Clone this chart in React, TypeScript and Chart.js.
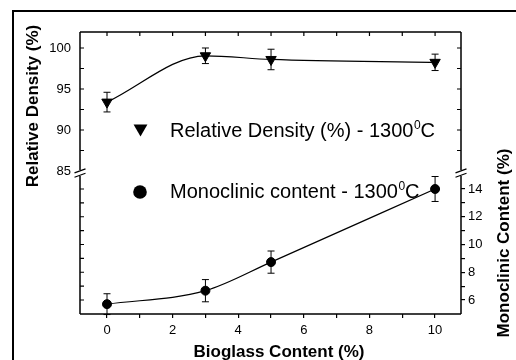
import React, { useEffect, useRef } from 'react';
import { Chart, registerables } from 'chart.js';

Chart.register(...registerables);

// ---- data ----
const bioglass = [0, 3, 5, 10];
const relDensity = [93.4, 99.05, 98.6, 98.25];
const relDensityErr = [1.2, 0.95, 1.25, 1.0];
const monoclinic = [5.7, 6.67, 8.73, 14.0];
const monoclinicErr = [0.75, 0.8, 0.8, 0.9];

const xTicks = [0, 1, 2, 3, 4, 5, 6, 7, 8, 9, 10];
const densityLabelTicks = [85, 90, 95, 100];
const densityMinorTicks = [87.5, 90, 92.5, 95, 97.5, 100];
const monoTicks = [6, 7, 8, 9, 10, 11, 12, 13, 14];

const xTitle = 'Bioglass Content (%)';
const yTitle = 'Relative Density (%)';
const y1Title = 'Monoclinic Content (%)';
const legendLabels = ['Relative Density (%) - 1300', 'Monoclinic content - 1300'];
const legendSup = '0';
const legendUnit = 'C';

const FONT = '"Liberation Sans", Arial, Helvetica, sans-serif';

const decor = {
  id: 'decor',
  beforeDatasetsDraw(chart: any) {
    const ctx = chart.ctx;
    const xs = chart.scales.x;
    ctx.save();
    ctx.strokeStyle = '#000';
    ctx.lineWidth = 1;
    const draw = (vals: number[], errs: number[], sc: any) => {
      vals.forEach((v, i) => {
        const px = xs.getPixelForValue(bioglass[i]);
        const top = sc.getPixelForValue(v + errs[i]);
        const bot = sc.getPixelForValue(v - errs[i]);
        ctx.beginPath();
        ctx.moveTo(px, top);
        ctx.lineTo(px, bot);
        ctx.moveTo(px - 3.5, top);
        ctx.lineTo(px + 3.5, top);
        ctx.moveTo(px - 3.5, bot);
        ctx.lineTo(px + 3.5, bot);
        ctx.stroke();
      });
    };
    draw(relDensity, relDensityErr, chart.scales.y);
    draw(monoclinic, monoclinicErr, chart.scales.y1);
    ctx.restore();
  },
  afterDraw(chart: any) {
    const ctx = chart.ctx;
    const a = chart.chartArea;
    const xs = chart.scales.x;
    const ys = chart.scales.y;
    const y1 = chart.scales.y1;
    ctx.save();
    ctx.strokeStyle = '#000';
    ctx.fillStyle = '#000';

    // outer border
    ctx.lineWidth = 2;
    ctx.strokeRect(13, 11, 700, 500);

    // frame
    const breakY = (ys.getPixelForValue(85) + y1.getPixelForValue(15)) / 2;
    ctx.lineWidth = 1.5;
    ctx.beginPath();
    ctx.moveTo(a.left, a.top);
    ctx.lineTo(a.right, a.top);
    ctx.moveTo(a.left, a.bottom);
    ctx.lineTo(a.right, a.bottom);
    ctx.moveTo(a.left, a.top);
    ctx.lineTo(a.left, breakY - 3);
    ctx.moveTo(a.left, breakY + 3);
    ctx.lineTo(a.left, a.bottom);
    ctx.moveTo(a.right, a.top);
    ctx.lineTo(a.right, breakY - 3);
    ctx.moveTo(a.right, breakY + 3);
    ctx.lineTo(a.right, a.bottom);
    ctx.stroke();

    // break marks
    ctx.lineWidth = 1.2;
    ctx.beginPath();
    [a.left, a.right].forEach((x) => {
      [-2.2, 2.2].forEach((dy) => {
        ctx.moveTo(x - 5.5, breakY + dy + 2);
        ctx.lineTo(x + 5.5, breakY + dy - 2);
      });
    });
    ctx.stroke();

    // inward ticks
    ctx.lineWidth = 1.2;
    ctx.beginPath();
    xTicks.forEach((v) => {
      const px = xs.getPixelForValue(v);
      ctx.moveTo(px, a.top);
      ctx.lineTo(px, a.top + 4);
    });
    densityMinorTicks.forEach((v) => {
      const py = ys.getPixelForValue(v);
      ctx.moveTo(a.left, py);
      ctx.lineTo(a.left + 4, py);
      ctx.moveTo(a.right, py);
      ctx.lineTo(a.right - 4, py);
    });
    monoTicks.forEach((v) => {
      const py = y1.getPixelForValue(v);
      ctx.moveTo(a.left, py);
      ctx.lineTo(a.left + 4, py);
    });
    ctx.stroke();

    // axis titles
    ctx.font = 'bold 17px ' + FONT;
    ctx.textAlign = 'center';
    ctx.textBaseline = 'alphabetic';
    ctx.fillText(xTitle, 279, 357);
    ctx.save();
    ctx.translate(38, 106);
    ctx.rotate(-Math.PI / 2);
    ctx.fillText(yTitle, 0, 0);
    ctx.restore();
    ctx.save();
    ctx.translate(509, 243);
    ctx.rotate(-Math.PI / 2);
    ctx.fillText(y1Title, 0, 0);
    ctx.restore();

    // legend
    ctx.textAlign = 'left';
    // triangle (down)
    const tx = 140.5, ty = 128.5, r = 8;
    ctx.beginPath();
    ctx.moveTo(tx - r * Math.sqrt(3) / 2, ty - r / 2);
    ctx.lineTo(tx + r * Math.sqrt(3) / 2, ty - r / 2);
    ctx.lineTo(tx, ty + r);
    ctx.closePath();
    ctx.fill();
    ctx.beginPath();
    ctx.arc(140, 192, 6.8, 0, Math.PI * 2);
    ctx.fill();

    const drawLabel = (text: string, x: number, base: number) => {
      ctx.font = '20px ' + FONT;
      ctx.fillText(text, x, base);
      let w = ctx.measureText(text).width;
      ctx.font = '12px ' + FONT;
      ctx.fillText(legendSup, x + w + 0.5, base - 8);
      w += ctx.measureText(legendSup).width + 0.5;
      ctx.font = '20px ' + FONT;
      ctx.fillText(legendUnit, x + w, base);
    };
    drawLabel(legendLabels[0], 170, 136.5);
    drawLabel(legendLabels[1], 170, 198);

    ctx.restore();
  },
};

export default function App() {
  const ref = useRef<HTMLCanvasElement | null>(null);
  useEffect(() => {
    if (!ref.current) return;
    const chart = new Chart(ref.current, {
      type: 'line',
      data: {
        datasets: [
          {
            label: 'Relative Density (%) - 1300°C',
            data: bioglass.map((x, i) => ({ x, y: relDensity[i] })),
            yAxisID: 'y',
            borderColor: '#000',
            backgroundColor: '#000',
            borderWidth: 1.2,
            pointStyle: 'triangle',
            pointRotation: 180,
            pointRadius: 6,
            pointBorderWidth: 1,
            pointBackgroundColor: '#000',
            pointBorderColor: '#000',
            cubicInterpolationMode: 'monotone',
            fill: false,
          },
          {
            label: 'Monoclinic content - 1300°C',
            data: bioglass.map((x, i) => ({ x, y: monoclinic[i] })),
            yAxisID: 'y1',
            borderColor: '#000',
            backgroundColor: '#000',
            borderWidth: 1.2,
            pointStyle: 'circle',
            pointRadius: 4.5,
            pointBorderWidth: 1,
            pointBackgroundColor: '#000',
            pointBorderColor: '#000',
            cubicInterpolationMode: 'monotone',
            fill: false,
          },
        ],
      },
      options: {
        responsive: false,
        animation: false,
        layout: { padding: { top: 32, left: 0, right: 0, bottom: 0 } },
        plugins: { legend: { display: false }, tooltip: { enabled: false } },
        scales: {
          x: {
            type: 'linear',
            position: 'bottom',
            min: -0.823,
            max: 10.79,
            afterBuildTicks: (s: any) => {
              s.ticks = xTicks.map((v) => ({ value: v }));
            },
            afterFit: (s: any) => {
              s.height = 46;
            },
            ticks: {
              callback: (v: any) => (Number(v) % 2 === 0 ? String(v) : ''),
              color: '#000',
              font: { size: 13, family: FONT },
              padding: 5,
              maxRotation: 0,
              autoSkip: false,
            },
            grid: { display: true, drawOnChartArea: false, drawTicks: true, tickLength: 4, color: '#000', lineWidth: 1.2 },
            border: { display: false },
          },
          y: {
            type: 'linear',
            position: 'left',
            min: 67.56,
            max: 101.95,
            afterBuildTicks: (s: any) => {
              s.ticks = densityLabelTicks.map((v) => ({ value: v }));
            },
            afterFit: (s: any) => {
              s.width = 80;
            },
            ticks: {
              color: '#000',
              font: { size: 13, family: FONT },
              padding: 9,
              autoSkip: false,
            },
            grid: { display: false, drawTicks: false },
            border: { display: false },
          },
          y1: {
            type: 'linear',
            position: 'right',
            min: 4.99,
            max: 25.315,
            afterBuildTicks: (s: any) => {
              s.ticks = monoTicks.map((v) => ({ value: v }));
            },
            afterFit: (s: any) => {
              s.width = 55;
            },
            ticks: {
              callback: (v: any) => (Number(v) % 2 === 0 ? String(v) : ''),
              color: '#000',
              font: { size: 13, family: FONT },
              padding: 3,
              autoSkip: false,
            },
            grid: { display: true, drawOnChartArea: false, drawTicks: true, tickLength: 4, color: '#000', lineWidth: 1.2 },
            border: { display: false },
          },
        },
      },
      plugins: [decor],
    } as any);
    return () => chart.destroy();
  }, []);
  return (
    <div style={{ position: 'fixed', left: 0, top: 0, width: 516, height: 360, background: '#fff' }}>
      <canvas ref={ref} width={516} height={360} style={{ display: 'block' }} />
    </div>
  );
}
